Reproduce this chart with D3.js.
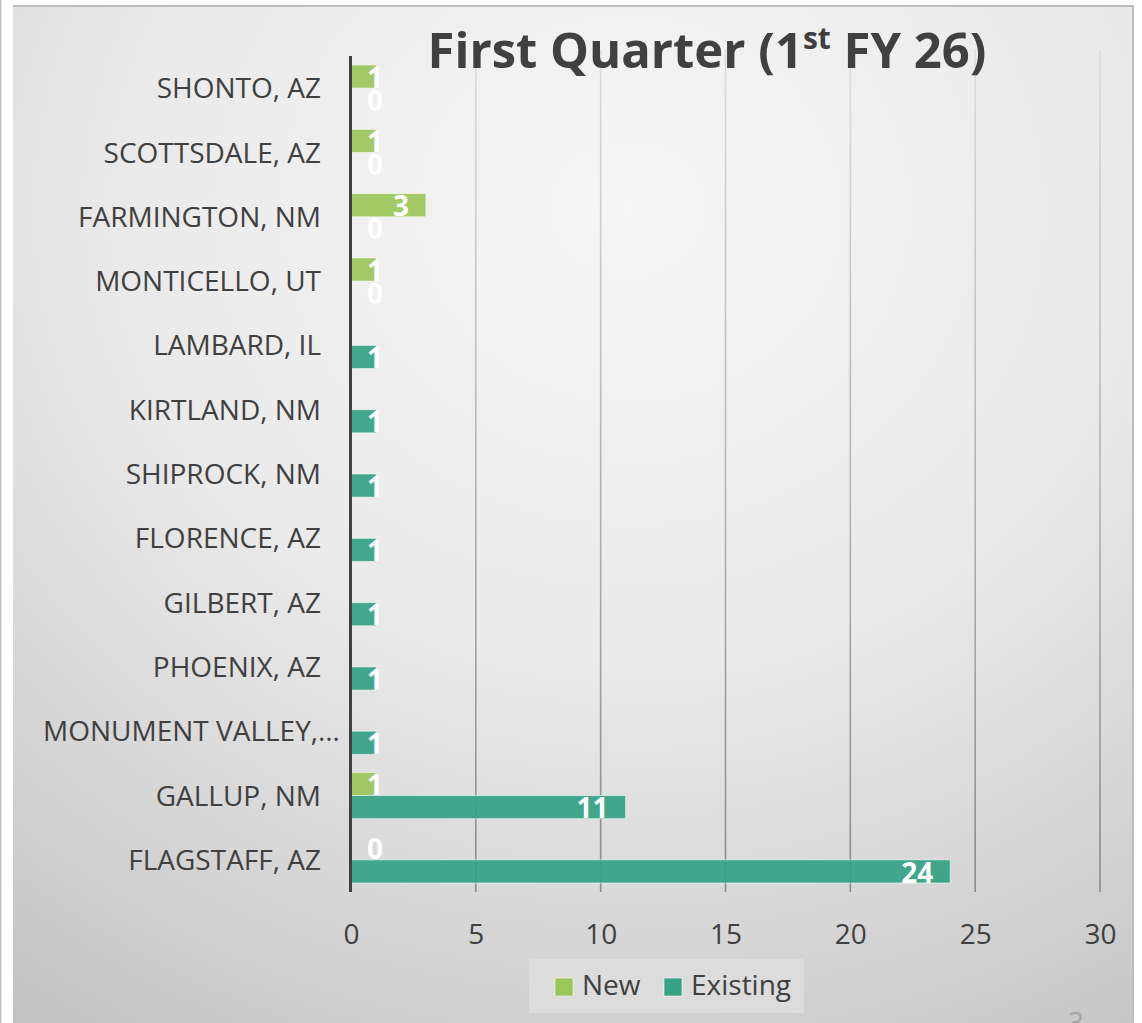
<!DOCTYPE html>
<html>
<head>
<meta charset="utf-8">
<script src="https://cdn.jsdelivr.net/npm/d3@7"></script>
<style>
  html, body { margin: 0; padding: 0; background: #ffffff; }
  svg { display: block; }
</style>
</head>
<body>
<svg id="chart" width="1142" height="1023"></svg>
<script>
// ---- data ----
const categories = [
  "SHONTO, AZ", "SCOTTSDALE, AZ", "FARMINGTON, NM", "MONTICELLO, UT",
  "LAMBARD, IL", "KIRTLAND, NM", "SHIPROCK, NM", "FLORENCE, AZ",
  "GILBERT, AZ", "PHOENIX, AZ", "MONUMENT VALLEY,…", "GALLUP, NM", "FLAGSTAFF, AZ"
];
const seriesNames = ["New", "Existing"];
const newValues      = [1, 1, 3, 1, null, null, null, null, null, null, null, 1, 0];
const existingValues = [0, 0, 0, 0, 1, 1, 1, 1, 1, 1, 1, 11, 24];
const xTicks = [0, 5, 10, 15, 20, 25, 30];
const titleMain = "First Quarter (1";
const titleSup = "st";
const titleRest = " FY 26)";
const pageNumber = "3";

// ---- styles ----
const colors = { "New": "#9bc65a", "Existing": "#35a283" };
const textColor = "#404040";
const fontFamily = "'Open Sans', 'Noto Sans', sans-serif";

const svg = d3.select("#chart");
const W = 1142, H = 1023;

const defs = svg.append("defs");
const bg = defs.append("radialGradient").attr("id", "bg")
  .attr("cx", "0.55").attr("cy", "0.2").attr("r", "1.0")
  .attr("fx", "0.55").attr("fy", "0.2");
bg.append("stop").attr("offset", "0").attr("stop-color", "#f6f6f6");
bg.append("stop").attr("offset", "0.45").attr("stop-color", "#eaeaea");
bg.append("stop").attr("offset", "0.8").attr("stop-color", "#d0d0d0");
bg.append("stop").attr("offset", "1").attr("stop-color", "#bfbfbf");

const gridGrad = defs.append("linearGradient").attr("id", "gridGrad")
  .attr("gradientUnits", "userSpaceOnUse")
  .attr("x1", 0).attr("y1", 50).attr("x2", 0).attr("y2", 892);
gridGrad.append("stop").attr("offset", "0").attr("stop-color", "#dcdcdc");
gridGrad.append("stop").attr("offset", "0.5").attr("stop-color", "#b4b4b4");
gridGrad.append("stop").attr("offset", "1").attr("stop-color", "#8a8a8a");

// page & panel
svg.append("rect").attr("x", 0).attr("y", 0).attr("width", W).attr("height", H).attr("fill", "#ffffff");
svg.append("rect").attr("x", 0).attr("y", 0).attr("width", 1.5).attr("height", H).attr("fill", "#c4c4c4");
svg.append("rect").attr("x", 13).attr("y", 5).attr("width", 1120).attr("height", H - 5).attr("fill", "url(#bg)");
svg.append("path").attr("d", `M13,6 L1133,6 L1133,${H}`)
  .attr("fill", "none").attr("stroke", "#bdbdbd").attr("stroke-width", 2);

// ---- scales ----
const x = d3.scaleLinear().domain([0, 30]).range([351, 1100]);
const y = d3.scaleBand().domain(categories).range([56, 892]).paddingInner(0.28).paddingOuter(0.14);
const ySub = d3.scaleBand().domain(seriesNames).range([0, y.bandwidth()]);

// gridlines
svg.append("g").selectAll("line").data(xTicks.filter(t => t > 0)).join("line")
  .attr("x1", d => x(d)).attr("x2", d => x(d))
  .attr("y1", 50).attr("y2", 892)
  .attr("stroke", "url(#gridGrad)").attr("stroke-width", 1.6);

// x axis tick labels
const xAxis = d3.axisBottom(x).tickValues(xTicks).tickSize(0).tickPadding(0).tickFormat(d3.format("d"));
const gx = svg.append("g").attr("transform", "translate(0,944)").call(xAxis);
gx.select(".domain").remove();
gx.selectAll("text")
  .attr("y", 0).attr("dy", null)
  .attr("fill", textColor)
  .style("font-family", fontFamily).style("font-size", "28px");

// bars
const rows = categories.map((c, i) => ({ cat: c, New: newValues[i], Existing: existingValues[i] }));
const barData = [];
rows.forEach(r => seriesNames.forEach(s => { if (r[s] !== null) barData.push({ cat: r.cat, series: s, value: r[s] }); }));

svg.append("g").selectAll("rect").data(barData.filter(d => d.value > 0)).join("rect")
  .attr("x", x(0))
  .attr("y", d => y(d.cat) + ySub(d.series))
  .attr("width", d => x(d.value) - x(0))
  .attr("height", ySub.bandwidth())
  .attr("fill", d => colors[d.series])
  .attr("fill-opacity", 0.93)
  .attr("stroke", "rgba(255,255,255,0.55)")
  .attr("stroke-width", 1);

// y axis line
svg.append("line").attr("x1", 350.5).attr("x2", 350.5).attr("y1", 56).attr("y2", 892)
  .attr("stroke", textColor).attr("stroke-width", 3);

// category labels
const labelFs = 28;
svg.append("g").selectAll("text").data(categories).join("text")
  .text(d => d)
  .attr("y", d => y(d) + y.bandwidth() / 2 + labelFs * 0.36)
  .attr("fill", textColor)
  .style("font-family", fontFamily).style("font-size", labelFs + "px")
  .each(function () {
    const t = d3.select(this);
    const w = this.getComputedTextLength();
    if (w > 278) t.attr("x", 43).attr("text-anchor", "start");
    else t.attr("x", 321).attr("text-anchor", "end");
  });

// data labels
const dlFs = 28;
svg.append("g").selectAll("text").data(barData).join("text")
  .text(d => d.value)
  .attr("y", d => y(d.cat) + ySub(d.series) + ySub.bandwidth() / 2 + dlFs * 0.36 + 1)
  .attr("text-anchor", "end")
  .attr("fill", "#ffffff")
  .style("font-family", fontFamily).style("font-size", dlFs + "px").style("font-weight", "700")
  .each(function (d) {
    const w = this.getComputedTextLength();
    const end = Math.max(x(d.value) - 17, x(0) + 16 + w);
    d3.select(this).attr("x", end);
  });

// title
const title = svg.append("text")
  .attr("x", 707).attr("y", 68).attr("text-anchor", "middle")
  .attr("fill", textColor)
  .style("font-family", fontFamily).style("font-size", "49px").style("font-weight", "700");
title.append("tspan").text(titleMain);
title.append("tspan").text(titleSup).attr("dy", -19).style("font-size", "30px");
title.append("tspan").text(titleRest).attr("dy", 19);

// legend
const lg = svg.append("g");
lg.append("rect").attr("x", 529).attr("y", 959).attr("width", 275).attr("height", 54).attr("fill", "#dcdcdc");
const legendItems = [{ name: "New", sx: 555, tx: 582 }, { name: "Existing", sx: 664, tx: 691 }];
legendItems.forEach(it => {
  lg.append("rect").attr("x", it.sx).attr("y", 978).attr("width", 18).attr("height", 18)
    .attr("fill", colors[it.name]).attr("stroke", "rgba(255,255,255,0.6)").attr("stroke-width", 1);
  lg.append("text").text(it.name).attr("x", it.tx).attr("y", 995)
    .attr("fill", textColor)
    .style("font-family", fontFamily).style("font-size", "28px");
});

// page number (cut off at the bottom edge, as in the reference)
svg.append("text").text(pageNumber).attr("x", 1076).attr("y", 1032).attr("text-anchor", "middle")
  .attr("fill", "#a6a6a6").style("font-family", fontFamily).style("font-size", "28px");
</script>
</body>
</html>
